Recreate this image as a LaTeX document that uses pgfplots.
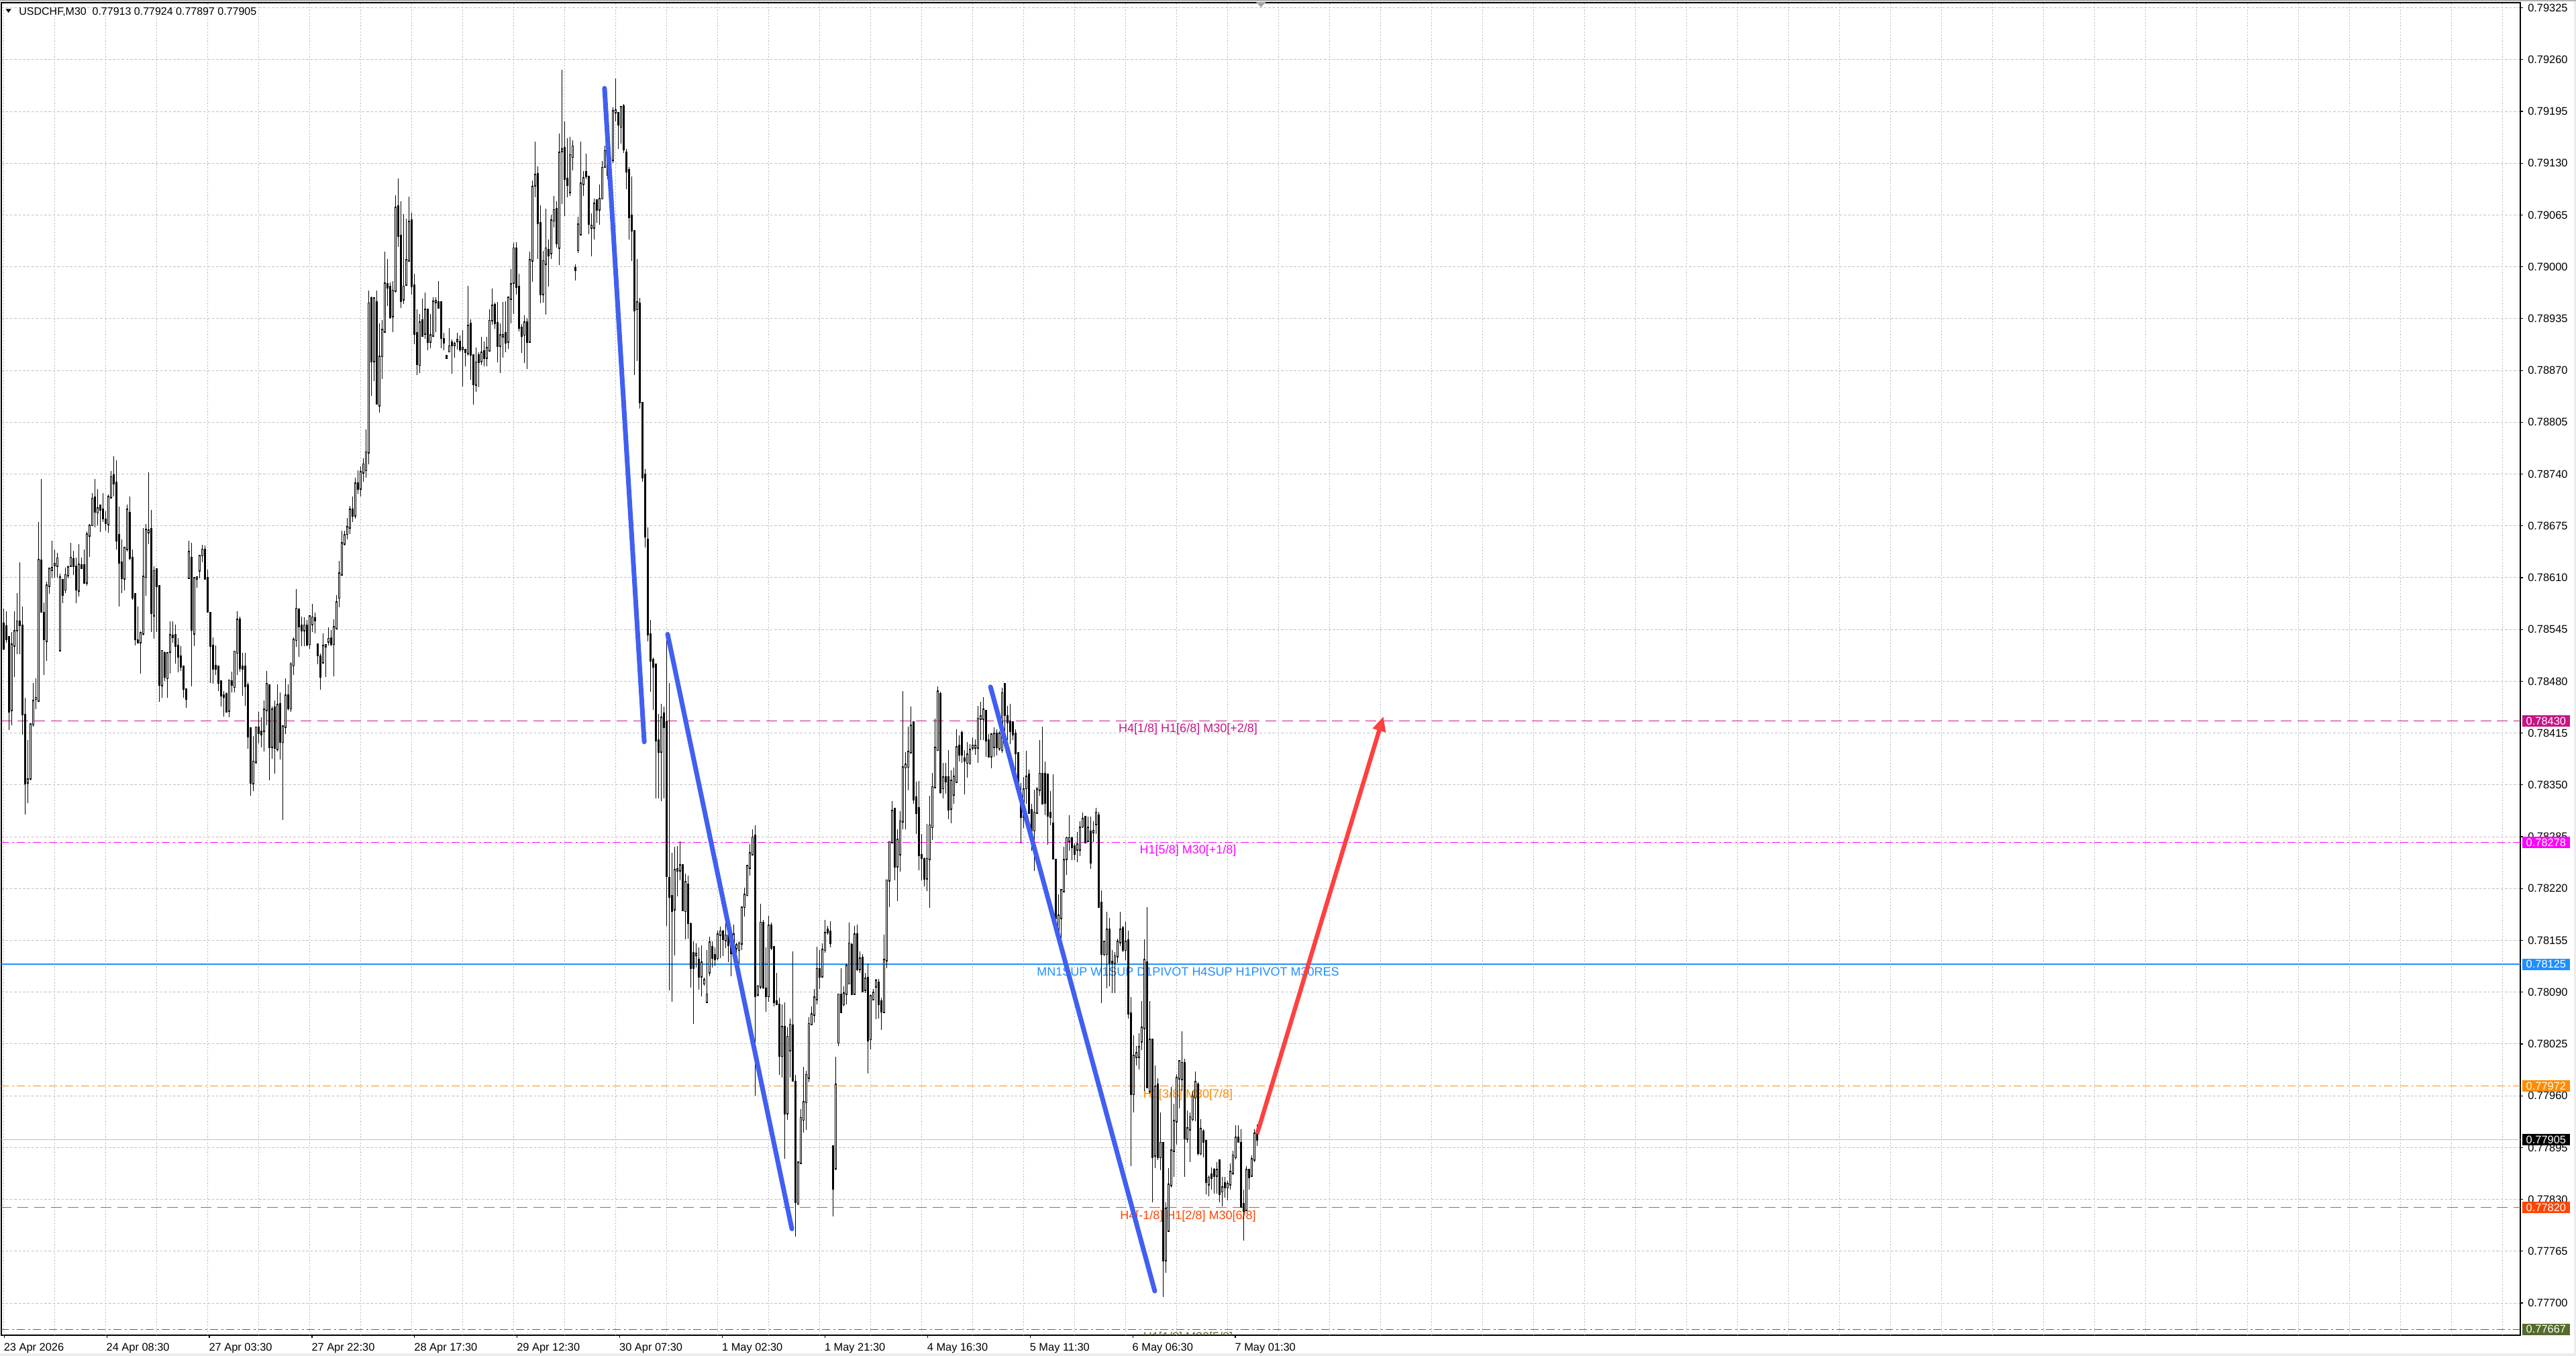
\documentclass[border=0pt]{standalone}
\usepackage{fontspec}
\setmainfont{Liberation Sans}
\usepackage{pgfplots}
\usepackage{pgfplotstable}
\pgfplotsset{compat=1.18}
\usetikzlibrary{arrows.meta}

\definecolor{mvr}{RGB}{199,21,133}
\definecolor{mag}{RGB}{255,0,255}
\definecolor{dblue}{RGB}{30,144,255}
\definecolor{dorange}{RGB}{255,140,0}
\definecolor{ored}{RGB}{255,69,0}
\definecolor{dolive}{RGB}{85,107,47}
\definecolor{gridc}{RGB}{192,192,192}
\definecolor{tlblue}{RGB}{65,95,240}
\definecolor{arrred}{RGB}{255,64,64}

\newcommand\tck{\fontsize{4.1pt}{4.6pt}\selectfont}
\newcommand\lab{\fontsize{4.5pt}{5pt}\selectfont}

\pgfplotstableread{
i o h l c
0 0.78552 0.78571 0.78519 0.78521
1 0.78549 0.78568 0.78528 0.78533
2 0.78535 0.78535 0.78419 0.78442
3 0.78444 0.78542 0.78425 0.78526
4 0.78525 0.78568 0.78485 0.78543
5 0.78544 0.78591 0.78514 0.78555
6 0.78555 0.78629 0.78514 0.78551
7 0.78550 0.78574 0.78413 0.78439
8 0.78438 0.78459 0.78313 0.78352
9 0.78353 0.78406 0.78327 0.78357
10 0.78358 0.78427 0.78356 0.78426
11 0.78426 0.78478 0.78423 0.78455
12 0.78458 0.78484 0.78445 0.78459
13 0.78456 0.78680 0.78456 0.78632
14 0.78631 0.78734 0.78567 0.78568
15 0.78566 0.78579 0.78488 0.78533
16 0.78531 0.78605 0.78506 0.78600
17 0.78600 0.78622 0.78590 0.78621
18 0.78620 0.78656 0.78609 0.78622
19 0.78626 0.78645 0.78610 0.78627
20 0.78625 0.78641 0.78610 0.78634
21 0.78519 0.78615 0.78519 0.78610
22 0.78607 0.78608 0.78578 0.78589
23 0.78595 0.78623 0.78591 0.78613
24 0.78613 0.78625 0.78609 0.78623
25 0.78625 0.78654 0.78624 0.78635
26 0.78633 0.78644 0.78613 0.78625
27 0.78624 0.78635 0.78578 0.78595
28 0.78594 0.78652 0.78586 0.78626
29 0.78625 0.78635 0.78622 0.78622
30 0.78625 0.78645 0.78603 0.78604
31 0.78604 0.78668 0.78600 0.78664
32 0.78663 0.78677 0.78636 0.78675
33 0.78676 0.78716 0.78676 0.78709
34 0.78710 0.78734 0.78673 0.78693
35 0.78692 0.78721 0.78676 0.78697
36 0.78700 0.78700 0.78667 0.78696
37 0.78695 0.78716 0.78680 0.78685
38 0.78683 0.78693 0.78669 0.78679
39 0.78677 0.78714 0.78666 0.78711
40 0.78711 0.78744 0.78710 0.78736
41 0.78738 0.78762 0.78712 0.78728
42 0.78729 0.78757 0.78645 0.78657
43 0.78663 0.78699 0.78574 0.78629
44 0.78629 0.78658 0.78591 0.78610
45 0.78609 0.78647 0.78594 0.78647
46 0.78646 0.78702 0.78643 0.78695
47 0.78691 0.78712 0.78632 0.78635
48 0.78635 0.78645 0.78582 0.78585
49 0.78589 0.78589 0.78525 0.78533
50 0.78531 0.78574 0.78528 0.78529
51 0.78529 0.78543 0.78490 0.78540
52 0.78540 0.78672 0.78538 0.78611
53 0.78611 0.78677 0.78587 0.78670
54 0.78667 0.78742 0.78652 0.78669
55 0.78671 0.78695 0.78542 0.78566
56 0.78563 0.78624 0.78533 0.78618
57 0.78620 0.78622 0.78542 0.78600
58 0.78599 0.78600 0.78454 0.78476
59 0.78475 0.78519 0.78459 0.78518
60 0.78515 0.78517 0.78480 0.78486
61 0.78484 0.78515 0.78459 0.78515
62 0.78517 0.78555 0.78490 0.78538
63 0.78537 0.78555 0.78528 0.78536
64 0.78538 0.78551 0.78502 0.78525
65 0.78524 0.78534 0.78491 0.78511
66 0.78511 0.78524 0.78493 0.78499
67 0.78498 0.78499 0.78459 0.78471
68 0.78470 0.78470 0.78447 0.78458
69 0.78610 0.78656 0.78610 0.78642
70 0.78635 0.78654 0.78474 0.78545
71 0.78540 0.78610 0.78524 0.78609
72 0.78609 0.78610 0.78597 0.78610
73 0.78619 0.78638 0.78609 0.78637
74 0.78638 0.78651 0.78629 0.78645
75 0.78645 0.78650 0.78609 0.78609
76 0.78609 0.78620 0.78568 0.78568
77 0.78566 0.78566 0.78478 0.78525
78 0.78524 0.78535 0.78477 0.78496
79 0.78499 0.78525 0.78488 0.78496
80 0.78498 0.78500 0.78468 0.78478
81 0.78480 0.78481 0.78448 0.78462
82 0.78462 0.78468 0.78436 0.78461
83 0.78464 0.78466 0.78442 0.78442
84 0.78443 0.78481 0.78435 0.78481
85 0.78480 0.78492 0.78466 0.78476
86 0.78473 0.78518 0.78466 0.78517
87 0.78516 0.78568 0.78488 0.78557
88 0.78557 0.78561 0.78492 0.78497
89 0.78498 0.78516 0.78462 0.78496
90 0.78498 0.78516 0.78449 0.78474
91 0.78475 0.78479 0.78395 0.78411
92 0.78421 0.78421 0.78336 0.78353
93 0.78352 0.78411 0.78342 0.78379
94 0.78379 0.78423 0.78376 0.78422
95 0.78422 0.78442 0.78402 0.78415
96 0.78417 0.78435 0.78397 0.78414
97 0.78418 0.78456 0.78392 0.78444
98 0.78444 0.78493 0.78425 0.78476
99 0.78475 0.78476 0.78356 0.78398
100 0.78398 0.78448 0.78383 0.78444
101 0.78447 0.78456 0.78364 0.78397
102 0.78395 0.78476 0.78392 0.78450
103 0.78451 0.78466 0.78382 0.78404
104 0.78404 0.78423 0.78306 0.78423
105 0.78423 0.78484 0.78414 0.78462
106 0.78462 0.78476 0.78443 0.78446
107 0.78446 0.78504 0.78442 0.78501
108 0.78500 0.78535 0.78488 0.78532
109 0.78532 0.78596 0.78523 0.78571
110 0.78570 0.78571 0.78511 0.78549
111 0.78550 0.78561 0.78524 0.78544
112 0.78544 0.78560 0.78524 0.78550
113 0.78550 0.78557 0.78524 0.78526
114 0.78527 0.78562 0.78521 0.78561
115 0.78552 0.78577 0.78542 0.78560
116 0.78559 0.78566 0.78540 0.78557
117 0.78526 0.78526 0.78501 0.78513
118 0.78511 0.78515 0.78469 0.78486
119 0.78504 0.78540 0.78504 0.78524
120 0.78524 0.78525 0.78485 0.78525
121 0.78530 0.78548 0.78525 0.78533
122 0.78534 0.78544 0.78524 0.78527
123 0.78527 0.78558 0.78486 0.78548
124 0.78547 0.78588 0.78546 0.78579
125 0.78585 0.78631 0.78573 0.78615
126 0.78614 0.78669 0.78614 0.78653
127 0.78653 0.78669 0.78650 0.78663
128 0.78665 0.78685 0.78658 0.78673
129 0.78673 0.78700 0.78665 0.78695
130 0.78695 0.78712 0.78680 0.78688
131 0.78688 0.78735 0.78684 0.78728
132 0.78728 0.78745 0.78715 0.78722
133 0.78722 0.78750 0.78712 0.78742
134 0.78742 0.78760 0.78730 0.78752
135 0.78745 0.78796 0.78735 0.78767
136 0.78767 0.78970 0.78752 0.78954
137 0.78960 0.78963 0.78838 0.78882
138 0.78882 0.78962 0.78857 0.78960
139 0.78955 0.78970 0.78828 0.78829
140 0.78826 0.78929 0.78817 0.78887
141 0.78888 0.78933 0.78859 0.78921
142 0.78919 0.79019 0.78918 0.78979
143 0.78978 0.79010 0.78951 0.78974
144 0.78975 0.78980 0.78935 0.78937
145 0.78938 0.78982 0.78918 0.78970
146 0.78970 0.79090 0.78968 0.79074
147 0.79076 0.79111 0.79025 0.79039
148 0.79039 0.79082 0.78948 0.78957
149 0.78959 0.79066 0.78953 0.78975
150 0.78978 0.79060 0.78976 0.79008
151 0.79008 0.79088 0.79007 0.79056
152 0.79058 0.79068 0.78965 0.78976
153 0.78976 0.78991 0.78903 0.78916
154 0.78917 0.78947 0.78864 0.78878
155 0.78877 0.78941 0.78867 0.78930
156 0.78933 0.78960 0.78913 0.78914
157 0.78916 0.78968 0.78910 0.78946
158 0.78946 0.78946 0.78895 0.78906
159 0.78906 0.78941 0.78898 0.78914
160 0.78914 0.78962 0.78914 0.78956
161 0.78956 0.78962 0.78918 0.78957
162 0.78955 0.78982 0.78948 0.78949
163 0.78955 0.78955 0.78898 0.78911
164 0.78909 0.78917 0.78895 0.78905
165 0.78888 0.78889 0.78884 0.78886
166 0.78894 0.78923 0.78893 0.78900
167 0.78905 0.78909 0.78866 0.78902
168 0.78902 0.78906 0.78886 0.78903
169 0.78907 0.78917 0.78896 0.78908
170 0.78906 0.78914 0.78894 0.78897
171 0.78897 0.78921 0.78850 0.78898
172 0.78896 0.78897 0.78875 0.78893
173 0.78892 0.78976 0.78889 0.78926
174 0.78928 0.78934 0.78858 0.78890
175 0.78889 0.78890 0.78827 0.78853
176 0.78852 0.78899 0.78843 0.78880
177 0.78889 0.78893 0.78849 0.78881
178 0.78882 0.78912 0.78877 0.78892
179 0.78894 0.78906 0.78875 0.78886
180 0.78886 0.78912 0.78875 0.78898
181 0.78895 0.78947 0.78894 0.78932
182 0.78933 0.78973 0.78927 0.78951
183 0.78952 0.78955 0.78922 0.78930
184 0.78929 0.78956 0.78880 0.78901
185 0.78901 0.78929 0.78867 0.78914
186 0.78913 0.78956 0.78886 0.78914
187 0.78917 0.78957 0.78893 0.78905
188 0.78906 0.78963 0.78897 0.78961
189 0.78960 0.78997 0.78929 0.78978
190 0.78980 0.79030 0.78941 0.79023
191 0.79023 0.79031 0.78965 0.78975
192 0.78975 0.78991 0.78919 0.78924
193 0.78923 0.78928 0.78892 0.78914
194 0.78915 0.78939 0.78879 0.78930
195 0.78930 0.78936 0.78872 0.78906
196 0.78906 0.79019 0.78905 0.79008
197 0.79008 0.79108 0.78981 0.79100
198 0.79102 0.79157 0.79087 0.79115
199 0.79116 0.79126 0.79010 0.79055
200 0.79055 0.79077 0.78954 0.78966
201 0.78966 0.79020 0.78955 0.79007
202 0.79004 0.79073 0.78940 0.79023
203 0.79021 0.79034 0.78975 0.79015
204 0.79017 0.79065 0.79010 0.79058
205 0.79058 0.79089 0.79049 0.79071
206 0.79072 0.79082 0.79024 0.79030
207 0.79024 0.79167 0.79002 0.79143
208 0.79145 0.79247 0.79079 0.79147
209 0.79149 0.79182 0.79064 0.79111
210 0.79110 0.79161 0.79087 0.79103
211 0.79094 0.79163 0.79089 0.79140
212 0.79138 0.79159 0.79121 0.79151
213 0.78998 0.79003 0.78983 0.78996
214 0.79021 0.79063 0.79017 0.79053
215 0.79041 0.79157 0.79040 0.79104
216 0.79104 0.79120 0.79089 0.79111
217 0.79119 0.79142 0.79110 0.79114
218 0.79113 0.79114 0.79041 0.79054
219 0.79049 0.79067 0.79013 0.79051
220 0.79049 0.79086 0.79034 0.79079
221 0.79083 0.79085 0.79055 0.79072
222 0.79072 0.79103 0.79053 0.79085
223 0.79086 0.79133 0.79086 0.79124
224 0.79126 0.79152 0.79125 0.79145
225 0.79145 0.79171 0.79110 0.79116
226 0.79116 0.79147 0.79113 0.79133
227 0.79134 0.79200 0.79130 0.79195
228 0.79194 0.79236 0.79182 0.79196
229 0.79193 0.79194 0.79148 0.79179
230 0.79176 0.79202 0.79155 0.79200
231 0.79201 0.79204 0.79143 0.79148
232 0.79143 0.79148 0.79097 0.79120
233 0.79121 0.79125 0.79034 0.79063
234 0.79064 0.79113 0.79007 0.79046
235 0.79045 0.79046 0.78864 0.78946
236 0.78947 0.79010 0.78882 0.78955
237 0.78954 0.78961 0.78822 0.78830
238 0.78829 0.78830 0.78730 0.78736
239 0.78739 0.78746 0.78648 0.78662
240 0.78657 0.78673 0.78530 0.78539
241 0.78539 0.78557 0.78467 0.78506
242 0.78507 0.78510 0.78444 0.78499
243 0.78501 0.78502 0.78333 0.78406
244 0.78406 0.78439 0.78333 0.78392
245 0.78392 0.78452 0.78330 0.78434
246 0.78439 0.78448 0.78333 0.78423
247 0.78428 0.78541 0.78173 0.78236
248 0.78233 0.78478 0.78092 0.78210
249 0.78210 0.78265 0.78078 0.78192
250 0.78194 0.78272 0.78136 0.78243
251 0.78243 0.78273 0.78210 0.78244
252 0.78243 0.78279 0.78230 0.78249
253 0.78249 0.78250 0.78192 0.78193
254 0.78192 0.78239 0.78156 0.78228
255 0.78225 0.78236 0.78157 0.78177
256 0.78175 0.78177 0.78096 0.78121
257 0.78139 0.78154 0.78050 0.78121
258 0.78137 0.78151 0.78121 0.78138
259 0.78130 0.78146 0.78093 0.78110
260 0.78110 0.78149 0.78085 0.78127
261 0.78101 0.78108 0.78098 0.78105
262 0.78078 0.78143 0.78078 0.78087
263 0.78115 0.78160 0.78110 0.78152
264 0.78146 0.78154 0.78121 0.78133
265 0.78136 0.78146 0.78123 0.78132
266 0.78133 0.78167 0.78130 0.78162
267 0.78162 0.78172 0.78133 0.78166
268 0.78166 0.78168 0.78135 0.78157
269 0.78155 0.78178 0.78145 0.78161
270 0.78161 0.78173 0.78128 0.78149
271 0.78149 0.78156 0.78110 0.78139
272 0.78139 0.78175 0.78133 0.78162
273 0.78145 0.78152 0.78126 0.78149
274 0.78143 0.78154 0.78126 0.78151
275 0.78151 0.78197 0.78143 0.78196
276 0.78197 0.78221 0.78185 0.78212
277 0.78212 0.78249 0.78210 0.78248
278 0.78246 0.78276 0.78236 0.78264
279 0.78263 0.78294 0.78262 0.78284
280 0.78286 0.78299 0.77960 0.78085
281 0.78087 0.78099 0.78085 0.78097
282 0.78097 0.78201 0.78094 0.78177
283 0.78177 0.78181 0.78094 0.78096
284 0.78094 0.78146 0.78065 0.78085
285 0.78085 0.78186 0.78078 0.78173
286 0.78173 0.78177 0.78143 0.78146
287 0.78146 0.78147 0.78072 0.78078
288 0.78078 0.78114 0.78075 0.78075
289 0.78074 0.78083 0.77986 0.78010
290 0.78010 0.78075 0.77983 0.78046
291 0.78046 0.78077 0.77881 0.77938
292 0.77938 0.78046 0.77930 0.78034
293 0.78017 0.78057 0.77983 0.78049
294 0.78048 0.78141 0.77979 0.77979
295 0.77977 0.77986 0.77783 0.77827
296 0.77825 0.77878 0.77823 0.77876
297 0.77876 0.77943 0.77874 0.77932
298 0.77930 0.77996 0.77914 0.77952
299 0.77952 0.77991 0.77917 0.77986
300 0.77983 0.78059 0.77977 0.78050
301 0.78050 0.78072 0.78050 0.78062
302 0.78062 0.78094 0.78052 0.78083
303 0.78081 0.78147 0.78075 0.78119
304 0.78119 0.78143 0.78094 0.78110
305 0.78110 0.78151 0.78110 0.78143
306 0.78143 0.78181 0.78139 0.78164
307 0.78168 0.78173 0.78162 0.78165
308 0.78166 0.78179 0.78146 0.78152
309 0.77896 0.77898 0.77809 0.77844
310 0.77869 0.78009 0.77867 0.77974
311 0.78027 0.78088 0.78022 0.78087
312 0.78087 0.78120 0.78065 0.78065
313 0.78075 0.78097 0.78072 0.78088
314 0.78088 0.78126 0.78075 0.78123
315 0.78101 0.78177 0.78101 0.78151
316 0.78149 0.78152 0.78087 0.78088
317 0.78088 0.78173 0.78087 0.78162
318 0.78162 0.78175 0.78117 0.78119
319 0.78119 0.78141 0.78114 0.78132
320 0.78133 0.78138 0.78091 0.78091
321 0.78093 0.78114 0.78089 0.78107
322 0.78108 0.78126 0.77988 0.78030
323 0.78031 0.78087 0.78018 0.78085
324 0.78081 0.78094 0.78081 0.78089
325 0.78097 0.78107 0.78056 0.78104
326 0.78102 0.78107 0.78057 0.78075
327 0.78078 0.78083 0.78043 0.78066
328 0.78065 0.78162 0.78065 0.78130
329 0.78130 0.78230 0.78120 0.78230
330 0.78230 0.78278 0.78197 0.78278
331 0.78278 0.78330 0.78278 0.78317
332 0.78320 0.78321 0.78230 0.78248
333 0.78248 0.78294 0.78204 0.78281
334 0.78263 0.78317 0.78241 0.78304
335 0.78304 0.78468 0.78294 0.78372
336 0.78372 0.78391 0.78294 0.78375
337 0.78373 0.78423 0.78343 0.78391
338 0.78391 0.78448 0.78391 0.78424
339 0.78428 0.78430 0.78326 0.78332
340 0.78334 0.78354 0.78288 0.78315
341 0.78321 0.78355 0.78243 0.78262
342 0.78262 0.78288 0.78230 0.78259
343 0.78257 0.78259 0.78223 0.78233
344 0.78233 0.78301 0.78217 0.78257
345 0.78257 0.78336 0.78196 0.78299
346 0.78297 0.78365 0.78281 0.78347
347 0.78347 0.78433 0.78347 0.78396
348 0.78394 0.78474 0.78394 0.78467
349 0.78464 0.78467 0.78339 0.78341
350 0.78346 0.78378 0.78333 0.78359
351 0.78359 0.78378 0.78339 0.78355
352 0.78359 0.78394 0.78307 0.78319
353 0.78320 0.78368 0.78302 0.78355
354 0.78338 0.78372 0.78326 0.78360
355 0.78354 0.78420 0.78352 0.78397
356 0.78399 0.78412 0.78379 0.78388
357 0.78415 0.78418 0.78378 0.78388
358 0.78383 0.78394 0.78338 0.78381
359 0.78378 0.78404 0.78359 0.78388
360 0.78378 0.78401 0.78375 0.78394
361 0.78397 0.78410 0.78394 0.78399
362 0.78397 0.78407 0.78388 0.78399
363 0.78397 0.78449 0.78378 0.78433
364 0.78433 0.78454 0.78406 0.78436
365 0.78433 0.78460 0.78406 0.78444
366 0.78443 0.78444 0.78385 0.78406
367 0.78406 0.78414 0.78385 0.78386
368 0.78386 0.78414 0.78371 0.78413
369 0.78398 0.78422 0.78385 0.78414
370 0.78414 0.78420 0.78387 0.78398
371 0.78396 0.78417 0.78393 0.78414
372 0.78394 0.78472 0.78390 0.78465
373 0.78476 0.78477 0.78414 0.78438
374 0.78436 0.78449 0.78406 0.78429
375 0.78429 0.78452 0.78401 0.78418
376 0.78428 0.78430 0.78406 0.78414
377 0.78414 0.78420 0.78352 0.78390
378 0.78390 0.78390 0.78346 0.78352
379 0.78336 0.78352 0.78277 0.78310
380 0.78310 0.78360 0.78296 0.78344
381 0.78346 0.78393 0.78326 0.78360
382 0.78363 0.78369 0.78315 0.78315
383 0.78318 0.78326 0.78267 0.78293
384 0.78293 0.78344 0.78242 0.78315
385 0.78315 0.78347 0.78315 0.78344
386 0.78344 0.78406 0.78336 0.78364
387 0.78364 0.78423 0.78326 0.78327
388 0.78364 0.78379 0.78312 0.78328
389 0.78363 0.78364 0.78275 0.78312
390 0.78315 0.78342 0.78299 0.78310
391 0.78301 0.78363 0.78258 0.78258
392 0.78256 0.78256 0.78178 0.78183
393 0.78165 0.78213 0.78159 0.78186
394 0.78183 0.78218 0.78156 0.78218
395 0.78217 0.78272 0.78217 0.78256
396 0.78257 0.78285 0.78237 0.78283
397 0.78280 0.78312 0.78267 0.78283
398 0.78283 0.78285 0.78256 0.78272
399 0.78273 0.78277 0.78256 0.78264
400 0.78269 0.78291 0.78253 0.78275
401 0.78269 0.78304 0.78261 0.78296
402 0.78298 0.78315 0.78296 0.78307
403 0.78310 0.78310 0.78277 0.78278
404 0.78280 0.78310 0.78278 0.78296
405 0.78291 0.78310 0.78245 0.78253
406 0.78291 0.78304 0.78278 0.78292
407 0.78301 0.78321 0.78288 0.78315
408 0.78311 0.78316 0.78197 0.78197
409 0.78202 0.78218 0.78076 0.78138
410 0.78138 0.78154 0.78135 0.78153
411 0.78138 0.78191 0.78095 0.78168
412 0.78168 0.78183 0.78097 0.78127
413 0.78128 0.78143 0.78089 0.78127
414 0.78127 0.78140 0.78089 0.78135
415 0.78135 0.78157 0.78127 0.78153
416 0.78153 0.78191 0.78148 0.78168
417 0.78170 0.78173 0.78140 0.78143
418 0.78143 0.78178 0.78130 0.78153
419 0.78155 0.78167 0.78057 0.78063
420 0.78063 0.78084 0.77872 0.77962
421 0.77962 0.78036 0.77939 0.78010
422 0.78009 0.78022 0.77998 0.78013
423 0.78009 0.78038 0.77993 0.78021
424 0.78028 0.78079 0.78017 0.78045
425 0.78045 0.78156 0.77966 0.78130
426 0.78127 0.78197 0.77971 0.77971
427 0.77966 0.78079 0.77963 0.78030
428 0.78030 0.78030 0.77826 0.77883
429 0.77885 0.77998 0.77869 0.77971
430 0.77974 0.77982 0.77879 0.77883
431 0.77883 0.77939 0.77867 0.77901
432 0.77901 0.77901 0.77708 0.77754
433 0.77754 0.77826 0.77738 0.77818
434 0.77791 0.77869 0.77789 0.77848
435 0.77848 0.77971 0.77845 0.77891
436 0.77891 0.77950 0.77858 0.77928
437 0.77928 0.77987 0.77899 0.77982
438 0.77982 0.78003 0.77944 0.78003
439 0.77981 0.78041 0.77966 0.78001
440 0.78001 0.78006 0.77858 0.77907
441 0.77906 0.77942 0.77901 0.77919
442 0.77918 0.77939 0.77877 0.77933
443 0.77931 0.77966 0.77928 0.77959
444 0.77958 0.77990 0.77928 0.77977
445 0.77974 0.77977 0.77885 0.77888
446 0.77888 0.77931 0.77885 0.77918
447 0.77915 0.77918 0.77883 0.77903
448 0.77903 0.77904 0.77836 0.77852
449 0.77849 0.77860 0.77834 0.77857
450 0.77861 0.77870 0.77842 0.77857
451 0.77867 0.77869 0.77837 0.77860
452 0.77860 0.77877 0.77837 0.77867
453 0.77879 0.77880 0.77826 0.77837
454 0.77840 0.77858 0.77821 0.77845
455 0.77850 0.77858 0.77832 0.77845
456 0.77845 0.77853 0.77829 0.77849
457 0.77849 0.77875 0.77842 0.77864
458 0.77863 0.77891 0.77861 0.77885
459 0.77883 0.77923 0.77880 0.77907
460 0.77907 0.77923 0.77901 0.77903
461 0.77901 0.77918 0.77821 0.77821
462 0.77824 0.77842 0.77778 0.77816
463 0.77817 0.77872 0.77816 0.77867
464 0.77867 0.77867 0.77842 0.77858
465 0.77860 0.77885 0.77858 0.77880
466 0.77880 0.77918 0.77877 0.77912
467 0.77913 0.77924 0.77897 0.77905
}\bars

\begin{document}
\begin{tikzpicture}
\useasboundingbox (0pt,0pt) rectangle (959.75pt,505.25pt);
\fill[white] (0pt,0pt) rectangle (959.75pt,505.25pt);
\begin{axis}[
  at={(0.5pt,7.75pt)}, anchor=south west,
  scale only axis, width=938.5pt, height=496.5pt,
  xmin=-0.825, xmax=937.675, ymin=0.776596, ymax=0.793314,
  scaled ticks=false,
  axis line style={black, line width=0.35pt},
  tick align=outside, major tick length=1pt,
  tick style={black, line width=0.3pt},
  xtick pos=left, ytick pos=right, yticklabel pos=right,
  xtick={0.225,38.45,76.675,114.9,153.125,191.35,229.575,267.8,306.025,344.25,382.475,420.7,458.925},
  xticklabels={23 Apr 2026,24 Apr 08:30,27 Apr 03:30,27 Apr 22:30,28 Apr 17:30,29 Apr 12:30,30 Apr 07:30,1 May 02:30,1 May 21:30,4 May 16:30,5 May 11:30,6 May 06:30,7 May 01:30},
  xticklabel style={font=\tck, anchor=north west, inner sep=0pt, xshift=-0.3pt, yshift=-1.9pt},
  extra x ticks={0.1,19.1,...,931.1},
  extra x tick labels={},
  extra x tick style={grid=major, major tick length=0pt},
  x grid style={gridc, line width=0.25pt, dash pattern=on 0.55pt off 0.6pt},
  ytick={0.77700,0.77765,0.77830,0.77895,0.77960,0.78025,0.78090,0.78155,0.78220,0.78285,0.78350,0.78415,0.78480,0.78545,0.78610,0.78675,0.78740,0.78805,0.78870,0.78935,0.79000,0.79065,0.79130,0.79195,0.79260,0.79325},
  yticklabels={0.77700,0.77765,0.77830,0.77895,0.77960,0.78025,0.78090,0.78155,0.78220,0.78285,0.78350,0.78415,0.78480,0.78545,0.78610,0.78675,0.78740,0.78805,0.78870,0.78935,0.79000,0.79065,0.79130,0.79195,0.79260,0.79325},
  yticklabel style={font=\tck, anchor=west, inner sep=0pt, xshift=1.6pt},
  ymajorgrids,
  y grid style={gridc, line width=0.25pt, dash pattern=on 0.9pt off 0.7pt},
]
% level lines
\addplot[mvr, line width=0.28pt, dash pattern=on 4pt off 2.2pt, forget plot] coordinates {(-1,0.78430) (940,0.78430)};
\addplot[mag, line width=0.28pt, dash pattern=on 3pt off 1.2pt on 0.6pt off 1.2pt, forget plot] coordinates {(-1,0.78278) (940,0.78278)};
\addplot[dblue, line width=0.32pt, forget plot] coordinates {(-1,0.78125) (940,0.78125)};
\addplot[dorange, line width=0.28pt, dash pattern=on 3pt off 1.2pt on 0.6pt off 1.2pt, forget plot] coordinates {(-1,0.77972) (940,0.77972)};
\addplot[gridc, line width=0.28pt, forget plot] coordinates {(-1,0.77905) (940,0.77905)};
\addplot[ored, line width=0.28pt, dash pattern=on 4pt off 2.2pt, forget plot] coordinates {(-1,0.77820) (940,0.77820)};
\addplot[dolive, line width=0.28pt, dash pattern=on 3pt off 1.2pt on 0.6pt off 1.2pt, forget plot] coordinates {(-1,0.77667) (940,0.77667)};
% level labels
\node[mvr, font=\lab, anchor=base, yshift=-4.2pt, inner sep=0pt] at (axis cs:441.3,0.78430) {H4[1/8] H1[6/8] M30[+2/8]};
\node[mag, font=\lab, anchor=base, yshift=-4.2pt, inner sep=0pt] at (axis cs:441.3,0.78278) {H1[5/8] M30[+1/8]};
\node[dblue, font=\lab, anchor=base, yshift=-4.4pt, inner sep=0pt] at (axis cs:441.3,0.78125) {MN1SUP W1SUP D1PIVOT H4SUP H1PIVOT M30RES};
\node[dorange, font=\lab, anchor=base, yshift=-4.4pt, inner sep=0pt] at (axis cs:441.3,0.77972) {H1[3/8] M30[7/8]};
\node[ored, font=\lab, anchor=base, yshift=-4.6pt, inner sep=0pt] at (axis cs:441.3,0.77820) {H4[-1/8] H1[2/8] M30[6/8]};
\node[dolive, font=\lab, anchor=base, yshift=-4.3pt, inner sep=0pt] at (axis cs:441.3,0.77667) {H1[1/8] M30[5/8]};
% candles: wicks, bodies, hollow up bodies
\addplot[black, line width=0.3pt, mark=none, forget plot, quiver={u=0, v=\thisrow{h}-\thisrow{l}}] table[x=i, y=l] {\bars};
\addplot[black, line width=0.85pt, line cap=rect, mark=none, forget plot, quiver={u=0, v=\thisrow{c}-\thisrow{o}}] table[x=i, y=o] {\bars};
\addplot[white, line width=0.3pt, mark=none, forget plot, quiver={u=0, v=\thisrow{c}-\thisrow{o}}, restrict expr to domain={\thisrow{c}-\thisrow{o}}{0:1}] table[x=i, y=o] {\bars};
% trend lines
\addplot[tlblue, line width=1.75pt, line cap=round, forget plot] coordinates {(223.9,0.79224) (238.7,0.78404)};
\addplot[tlblue, line width=1.75pt, line cap=round, forget plot] coordinates {(247.4,0.78539) (293.7,0.77793)};
\addplot[tlblue, line width=1.75pt, line cap=round, forget plot] coordinates {(367.7,0.78473) (428.9,0.77715)};
\addplot[arrred, line width=1.6pt, -{Triangle[length=5.5pt,width=4.75pt]}, forget plot] coordinates {(467,0.77912) (514.1,0.78436)};
% anchors for price tags
\coordinate (T1) at (axis cs:937.675,0.78430);
\coordinate (T2) at (axis cs:937.675,0.78278);
\coordinate (T3) at (axis cs:937.675,0.78125);
\coordinate (T4) at (axis cs:937.675,0.77972);
\coordinate (T5) at (axis cs:937.675,0.77905);
\coordinate (T6) at (axis cs:937.675,0.77820);
\coordinate (T7) at (axis cs:937.675,0.77667);
\end{axis}
% price tags
\tikzset{tag/.style={anchor=west, text=white, font=\tck, inner sep=0pt, minimum width=17.75pt, minimum height=4.25pt}}
\node[tag, fill=mvr] at ([xshift=0.5pt]T1) {0.78430};
\node[tag, fill=mag] at ([xshift=0.5pt]T2) {0.78278};
\node[tag, fill=dblue] at ([xshift=0.5pt]T3) {0.78125};
\node[tag, fill=dorange] at ([xshift=0.5pt]T4) {0.77972};
\node[tag, fill=black] at ([xshift=0.5pt]T5) {0.77905};
\node[tag, fill=ored] at ([xshift=0.5pt]T6) {0.77820};
\node[tag, fill=dolive] at ([xshift=0.5pt]T7) {0.77667};
% title
\fill[black] (2.1pt,501.9pt) -- (4.2pt,501.9pt) -- (3.15pt,500.5pt) -- cycle;
\node[anchor=base west, inner sep=0pt, font=\fontsize{4pt}{4.5pt}\selectfont] at (6.9pt,499.6pt) {USDCHF,M30\hspace{0.55em}0.77913 0.77924 0.77897 0.77905};
% chart shift marker
\fill[gray!70] (467.9pt,504.5pt) -- (471.7pt,504.5pt) -- (469.8pt,502.5pt) -- cycle;
% window edges
\fill[gray!15] (0pt,0pt) rectangle (959.75pt,0.9pt);
\fill[gray!15] (958.9pt,0pt) rectangle (959.75pt,505.25pt);
\draw[gray!60, line width=0.5pt] (0pt,505pt) -- (959.75pt,505pt);
\end{tikzpicture}
\end{document}
